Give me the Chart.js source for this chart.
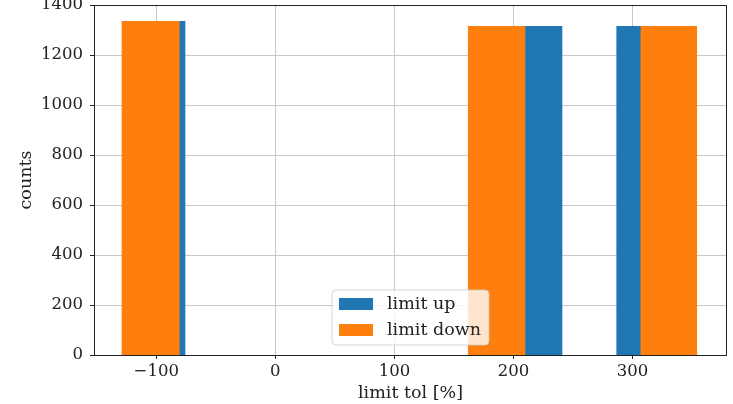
<!DOCTYPE html>
<html>
<head>
<meta charset="utf-8">
<script src="https://cdn.jsdelivr.net/npm/chart.js@4.4.1/dist/chart.umd.min.js"></script>
<style>
  html, body { margin: 0; padding: 0; background: #fff; }
  #chart { display: block; }
</style>
</head>
<body>
<canvas id="chart" width="733" height="404"></canvas>
<script>
// histogram bins: left edge of each run of bins and its count (0 = empty from there on)
const upEdges = [-120.9, -75.6, 195.7, 241.0, 286.4, 331.7]
const upCounts = [1336, 0, 1316, 0, 1316, 0]
const downEdges = [-129.3, -80.4, 161.7, 209.9, 306.7, 354.3]
const downCounts = [1336, 0, 1316, 0, 1316, 0]

const xTicks = [-100, 0, 100, 200, 300]
const yTicks = [0, 200, 400, 600, 800, 1000, 1200, 1400]
const labels = ['limit up', 'limit down']
const colors = ['#1f77b4', '#ff7f0e']

const FONT = 'DejaVu Serif'
const FS = 16.5     // tick labels
const FS_T = 17.5   // axis titles + legend

function steps(edges, counts){
    const pts = [{x: edges[0], y: 0}]
    edges.forEach((e, i) => pts.push({x: e, y: counts[i]}))
    return pts
}

// frame + legend like matplotlib
const frameAndLegend = {
    id: 'frameAndLegend',
    afterDraw(chart){
        const ctx = chart.ctx
        const a = chart.chartArea
        ctx.save()
        ctx.strokeStyle = '#222'
        ctx.lineWidth = 1
        ctx.strokeRect(Math.round(a.left) + 0.5, Math.round(a.top) + 0.5,
            Math.round(a.right - a.left) - 1, Math.round(a.bottom - a.top))

        ctx.font = FS_T + 'px "' + FONT + '"'
        const tw = Math.max(...labels.map(l => ctx.measureText(l).width))
        const hw = 34, hh = 12, padL = 7, gap = 14, padR = 8, rowH = 26
        const w = padL + hw + gap + tw + padR
        const h = 55
        const x0 = (a.left + a.right) / 2 - w / 2
        const y0 = a.bottom - 10 - h
        ctx.beginPath()
        ctx.roundRect(x0, y0, w, h, 4)
        ctx.fillStyle = 'rgba(255,255,255,0.8)'
        ctx.fill()
        ctx.strokeStyle = 'rgba(204,204,204,0.8)'
        ctx.stroke()
        labels.forEach((l, i) => {
            const cy = y0 + 14 + i * rowH
            ctx.fillStyle = colors[i]
            ctx.fillRect(x0 + padL, cy - hh / 2, hw, hh)
            ctx.fillStyle = '#222'
            ctx.textBaseline = 'middle'
            ctx.textAlign = 'left'
            ctx.fillText(l, x0 + padL + hw + gap, cy)
        })
        ctx.restore()
    }
}

const ctx = document.getElementById('chart').getContext('2d')
const myChart = new Chart(ctx, {
    type: 'line',
    data: {
        datasets: [{
            label: labels[0],
            data: steps(upEdges, upCounts),
            stepped: 'before',
            fill: 'origin',
            backgroundColor: colors[0],
            borderColor: 'rgba(0,0,0,0)',
            borderWidth: 0,
            pointRadius: 0,
            order: 2
        }, {
            label: labels[1],
            data: steps(downEdges, downCounts),
            stepped: 'before',
            fill: 'origin',
            backgroundColor: colors[1],
            borderColor: 'rgba(0,0,0,0)',
            borderWidth: 0,
            pointRadius: 0,
            order: 1
        }]
    },
    options: {
        responsive: false,
        devicePixelRatio: 1,
        animation: false,
        layout: { padding: { top: 5, right: 6, left: 0, bottom: 0 } },
        plugins: {
            legend: { display: false },
            tooltip: { enabled: false }
        },
        scales: {
            x: {
                type: 'linear',
                min: -152.3,
                max: 379.3,
                z: 1,
                afterBuildTicks: s => { s.ticks = xTicks.map(v => ({value: v})) },
                afterFit: s => { s.height = 49; s.paddingLeft = 0; s.paddingRight = 0 },
                grid: { color: '#c8c8c8', lineWidth: 1, tickColor: '#222', tickLength: 4 },
                border: { display: false },
                ticks: {
                    padding: 3,
                    color: '#222',
                    font: { family: FONT, size: FS },
                    maxRotation: 0,
                    callback: v => String(v).replace('-', '\u2212')
                },
                title: {
                    display: true,
                    text: 'limit tol [%]',
                    color: '#222',
                    font: { family: FONT, size: FS_T },
                    padding: { top: 0, bottom: 0 }
                }
            },
            y: {
                min: 0,
                max: 1400,
                z: 1,
                afterBuildTicks: s => { s.ticks = yTicks.map(v => ({value: v})) },
                afterFit: s => { s.width = 94; s.paddingTop = 0; s.paddingBottom = 0 },
                grid: { color: '#c8c8c8', lineWidth: 1, tickColor: '#222', tickLength: 4 },
                border: { display: false },
                ticks: {
                    padding: 7,
                    color: '#222',
                    font: { family: FONT, size: FS },
                    callback: v => String(v)
                },
                title: {
                    display: true,
                    text: 'counts',
                    color: '#222',
                    font: { family: FONT, size: FS_T },
                    padding: { top: 16, bottom: 0 }
                }
            }
        }
    },
    plugins: [frameAndLegend]
})
</script>
</body>
</html>
